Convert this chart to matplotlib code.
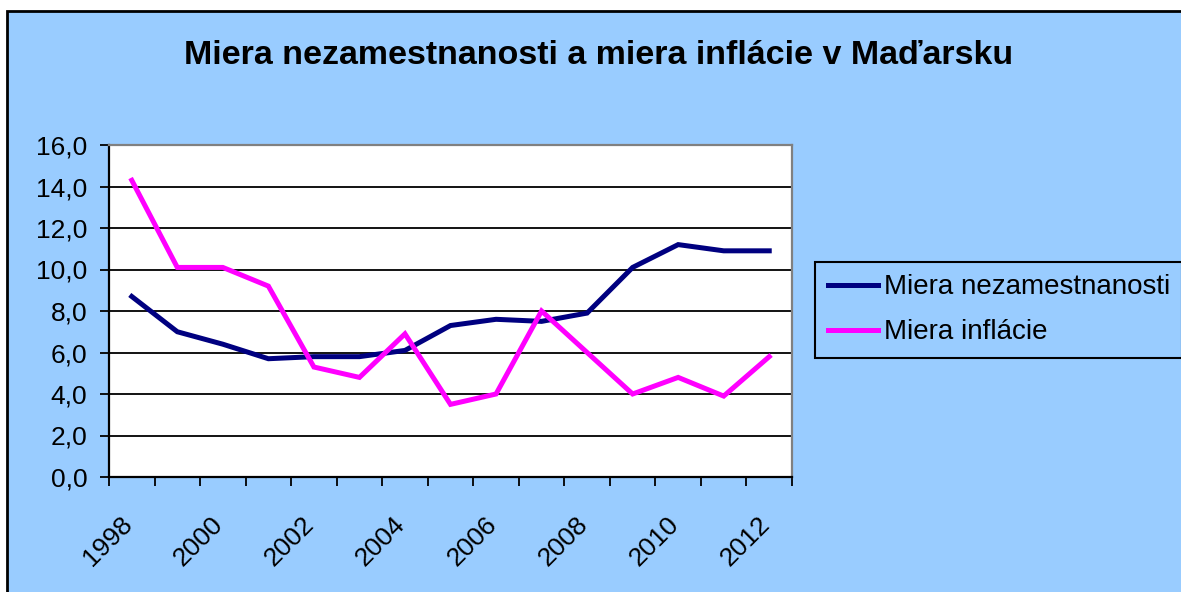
import numpy as np
import matplotlib.pyplot as plt
from matplotlib.patches import Rectangle

plt.rcParams['font.family'] = ['Liberation Sans', 'DejaVu Sans']

years = list(range(1998, 2013))
nezamestnanost = [8.7, 7.0, 6.4, 5.7, 5.8, 5.8, 6.1, 7.3, 7.6, 7.5, 7.9, 10.1, 11.2, 10.9, 10.9]
inflacia = [14.3, 10.1, 10.1, 9.2, 5.3, 4.8, 6.9, 3.5, 4.0, 8.0, 6.0, 4.0, 4.8, 3.9, 5.8]

bg = '#99CCFF'
W, H = 1181, 592

fig = plt.figure(figsize=(W / 100, H / 100), dpi=100, facecolor='white')
# chart area with black frame, running off the right and bottom edges
fig.patches.append(Rectangle((7 / W, -0.1), 1.2, 1.1 - 11 / H, transform=fig.transFigure,
                             facecolor=bg, edgecolor='black', lw=2, zorder=-5))

ax = fig.add_axes([109 / W, 1 - 477 / H, (792 - 109) / W, (477 - 145) / H])
ax.set_facecolor('white')

x = np.arange(len(years))
ax.plot(x, nezamestnanost, color='#000080', lw=3.6, label='Miera nezamestnanosti',
        solid_joinstyle='miter', zorder=3)
ax.plot(x, inflacia, color='#FF00FF', lw=3.6, label='Miera inflácie',
        solid_joinstyle='miter', zorder=3)

ax.set_xlim(-0.5, len(years) - 0.5)
ax.set_ylim(0, 16)
ax.set_yticks(np.arange(0, 17, 2))
ax.set_yticklabels([f'{v:.1f}'.replace('.', ',') for v in np.arange(0, 17, 2)])
ax.yaxis.grid(True, color='black', lw=1.3)
ax.set_axisbelow(True)

# category boundaries get the tick marks, every other year gets a label;
# the rotated labels end a little left of the category centre
ax.set_xticks(np.arange(-0.5, len(years), 1))
ax.set_xticklabels([])
ax.set_xticks(x[::2] - 0.26, minor=True)
ax.set_xticklabels([str(y) for y in years[::2]], minor=True, rotation=45,
                   ha='right', va='top', rotation_mode='anchor')
ax.tick_params(axis='x', which='major', direction='out', length=6.5, width=1.3, color='black')
ax.tick_params(axis='x', which='minor', length=0, pad=25, labelsize=19)
ax.tick_params(axis='y', direction='out', length=6.5, width=1.3, labelsize=19, pad=9)

for side in ('left', 'bottom'):
    ax.spines[side].set_color('black')
    ax.spines[side].set_linewidth(1.6)
for side in ('top', 'right'):
    ax.spines[side].set_color('#808080')
    ax.spines[side].set_linewidth(1.6)

fig.text(599 / W, 1 - 55 / H, 'Miera nezamestnanosti a miera inflácie v Maďarsku',
         ha='center', va='center', fontsize=24.5, fontweight='bold')

leg = fig.legend(loc='upper left', bbox_to_anchor=(815 / W, 1 - 262 / H), fontsize=20,
                 frameon=True, fancybox=False, edgecolor='black', facecolor=bg,
                 framealpha=1, handlelength=1.8, handletextpad=0.22, borderpad=0.45,
                 labelspacing=0.68, borderaxespad=0)
leg.get_frame().set_linewidth(1.5)
for line in leg.get_lines():
    line.set_linewidth(3.6)

fig.savefig('out.png', dpi=100, facecolor='white')
